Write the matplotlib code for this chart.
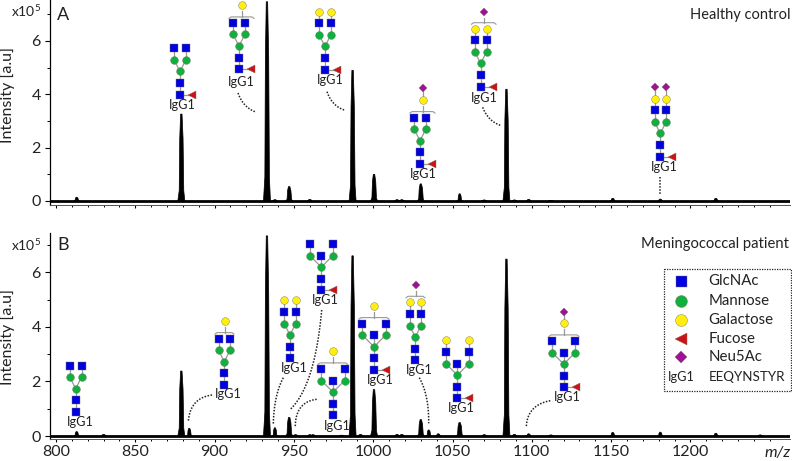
import numpy as np
import matplotlib
matplotlib.use("Agg")
import matplotlib.pyplot as plt

plt.rcParams['font.family'] = ['Lato', 'DejaVu Sans']
plt.rcParams['mathtext.default'] = 'regular'

# m/z and intensity (x10^5) of the peaks
mz_a = [813, 879, 933, 938, 947, 960, 987, 1000.5, 1015, 1018, 1030, 1054.5, 1070, 1084, 1089, 1098, 1112, 1151, 1181, 1216]
int_a = [0.14, 3.26, 7.47, 0.05, 0.54, 0.06, 4.9, 1.0, 0.05, 0.05, 0.64, 0.27, 0.04, 4.19, 0.04, 0.06, 0.02, 0.1, 0.07, 0.1]
mz_b = [813, 830, 879, 884, 933, 938, 947, 951, 960, 962, 980, 987, 992, 1000.5, 1015, 1018, 1030, 1035, 1041, 1054.5, 1070, 1084, 1089, 1098, 1112, 1151, 1181, 1216, 1244]
int_b = [0.16, 0.06, 2.38, 0.28, 7.33, 0.3, 0.68, 0.05, 0.05, 0.05, 0.03, 6.6, 0.06, 1.7, 0.06, 0.06, 0.6, 0.22, 0.08, 0.49, 0.05, 6.48, 0.06, 0.08, 0.04, 0.13, 0.14, 0.1, 0.04]

major_x = [800, 850, 900, 950, 1000, 1050, 1100, 1150, 1200]
y_ticks = [0, 2, 4, 6]

legend_names = ['GlcNAc', 'Mannose', 'Galactose', 'Fucose', 'Neu5Ac', 'EEQYNSTYR']

BLUE = '#0000e0'
GREEN = '#10b040'
YELLOW = '#ffee10'
RED = '#d01018'
PURPLE = '#a0109a'
TXT = '#222222'
W, H = 792, 461

fig = plt.figure(figsize=(W / 100, H / 100), dpi=100)


def panel(top, bottom, y0, per_unit, mz, vals):
    ax = fig.add_axes([50 / W, 1 - bottom / H, 740 / W, (bottom - top) / H])
    ax.set_xlim(796.2, 1262.8)
    ax.set_ylim(-(bottom - y0) / per_unit, (y0 - top) / per_unit)
    ax.patch.set_alpha(0)
    for m, v in zip(mz, vals):
        w = 2.2 if v > 0.4 else 1.7
        ax.fill([m - w, m - 0.6 * w, m - 0.45 * w, m - 0.2 * w, m + 0.2 * w, m + 0.5 * w, m + 0.7 * w, m + w],
                [0, 0.12 * v, 0.72 * v, v, v, 0.72 * v, 0.12 * v, 0], color='black', lw=0.5)
    ax.axhline(0, color='black', lw=2.0)
    ax.spines['top'].set_visible(False)
    ax.spines['right'].set_visible(False)
    ax.spines['left'].set_linewidth(0.9)
    ax.spines['bottom'].set_linewidth(0.7)
    ax.spines['bottom'].set_color('#555555')
    ax.set_xticks(major_x)
    ax.set_xticks(np.arange(810, 1260, 10), minor=True)
    ax.set_yticks(y_ticks)
    ax.set_yticks([1, 3, 5, 7], minor=True)
    ax.tick_params(axis='y', which='major', length=3.5, width=0.8, labelsize=11.5, pad=3, labelcolor=TXT)
    ax.tick_params(axis='y', which='minor', length=2, width=0.7)
    ax.tick_params(axis='x', which='major', length=2.5, width=0.8, labelsize=11.5, pad=1.5, labelcolor=TXT)
    ax.tick_params(axis='x', which='minor', length=1.5, width=0.7)
    return ax


ax_a = panel(0, 205, 201, 26.67, mz_a, int_a)
ax_a.set_xticklabels([])
ax_b = panel(233, 439, 436, 27.3, mz_b, int_b)

# overlay in pixel coordinates for glycan cartoons and notes
ov = fig.add_axes([0, 0, 1, 1])
ov.set_xlim(0, W)
ov.set_ylim(H, 0)
ov.axis('off')
ov.patch.set_alpha(0)


def sym(x, y, kind, size=7.2):
    st = {'n': ('s', BLUE, 1.0), 'm': ('o', GREEN, 1.08), 'g': ('o', YELLOW, 1.08),
          'f': ('<', RED, 1.05), 's': ('D', PURPLE, 0.78)}[kind]
    ov.plot(x, y, marker=st[0], ms=size * st[2] * 0.72, mfc=st[1], mec='#777755', mew=0.3, zorder=5, ls='none')


def bond(x0, y0, x1, y1):
    ov.plot([x0, x1], [y0, y1], color='#999999', lw=0.9, zorder=4)


def curl(x0, x1, by):
    ov.plot([x0, x0 + 2, x1 - 2, x1], [by + 1.5, by, by, by + 1.5], color='#999999', lw=0.8, zorder=4)


def glycan(x, y, arms=2, gal=0, neu=0, fuc=True, label=None, bracket=None):
    s = 11.6
    d = 5.8 if arms == 2 else 11.6
    if fuc:
        bond(x, y, x + 12, y)
        sym(x + 12, y, 'f')
    bond(x, y, x, y - 2 * s)
    sym(x, y, 'n')
    sym(x, y - s, 'n')
    sym(x, y - 2 * s, 'm')
    for sx in (-1, 1):
        xa = x + sx * d
        bond(x, y - 2 * s, xa, y - 3 * s)
        bond(xa, y - 3 * s, xa, y - 4 * s)
        sym(xa, y - 3 * s, 'm')
        sym(xa, y - 4 * s, 'n')
    if arms == 3:
        bond(x, y - 2 * s, x, y - 3 * s)
        sym(x, y - 3 * s, 'n')
    if gal == 2:
        for sx in (-1, 1):
            xa = x + sx * d
            bond(xa, y - 4 * s, xa, y - 5 * s)
            sym(xa, y - 5 * s, 'g')
    if bracket is None:
        if neu:
            for sx in (-1, 1):
                xa = x + sx * d
                bond(xa, y - 5 * s, xa, y - 6 * s)
                sym(xa, y - 6 * s, 's')
    else:
        # antenna position is not fixed, so it sits above a bracket
        x0, x1 = bracket
        xm = (x0 + x1) / 2
        if gal == 2:
            by = y - 5 * s - 6
            curl(x0, x1, by)
            bond(xm, by, xm, by - 5)
            sym(xm, by - 11, 's', 7.5)
        else:
            by = y - 4 * s - 6
            curl(x0, x1, by)
            bond(xm, by, xm, by - 6)
            gy = by - 11.5
            sym(xm, gy, 'g')
            if neu:
                bond(xm, gy, xm, gy - s)
                sym(xm, gy - s, 's')
    ov.text(label[0], label[1], 'IgG1', fontsize=9.2, color=TXT, ha='center', va='center', zorder=6)


# panel A cartoons
glycan(180, 94.7, label=(182.7, 104.5))
glycan(239, 69.3, label=(241.7, 81.5), gal=1, bracket=(229, 254))
glycan(325, 69.7, gal=2, label=(330, 80.5))
glycan(420, 164, gal=1, neu=1, bracket=(410, 435), label=(423.7, 173.5))
glycan(480.7, 86.7, gal=2, neu=1, bracket=(471.5, 496), label=(484, 98))
glycan(660.3, 156.7, gal=2, neu=2, label=(664, 166.7))

# panel B cartoons
glycan(75.7, 412, fuc=False, label=(80, 421.7))
glycan(224.3, 385, fuc=False, gal=1, bracket=(215, 234), label=(228.7, 394))
glycan(290, 358.3, fuc=False, gal=2, label=(294, 368))
glycan(321.3, 290.3, arms=3, label=(325.7, 300.3))
glycan(333, 415.3, arms=3, fuc=False, gal=1, bracket=(318, 347.7), label=(337.3, 425.7))
glycan(374, 370, arms=3, gal=1, bracket=(359, 389), label=(380, 380))
glycan(415.3, 360.3, fuc=False, gal=2, neu=1, bracket=(406, 425), label=(419.3, 370.3))
glycan(457.3, 398.3, arms=3, gal=2, label=(461, 408.3))
glycan(563.7, 387.3, arms=3, gal=1, neu=1, bracket=(549, 579), label=(567, 397.3))

# dotted leaders (start, control, end)
leaders = [
    ((238, 93), (243, 107), (255, 111.7)),
    ((327, 91.7), (332, 106), (344.3, 110)),
    ((482.7, 107.3), (488, 121), (500.3, 125.3)),
    ((659.7, 176.7), (659.7, 185), (659.7, 194)),
    ((212, 395), (190, 398), (188.3, 421.7)),
    ((283.3, 377.7), (274, 395), (273.3, 424.3)),
    ((321.7, 310), (315, 385), (290.7, 409)),
    ((316.7, 399.3), (295, 402), (295.3, 427.7)),
    ((419.3, 377.7), (429, 395), (428.7, 423.3)),
    ((550.3, 400.7), (527, 405), (526.3, 427.3)),
]
t = np.linspace(0, 1, 30)
for p0, p1, p2 in leaders:
    lx = (1 - t) ** 2 * p0[0] + 2 * t * (1 - t) * p1[0] + t ** 2 * p2[0]
    ly = (1 - t) ** 2 * p0[1] + 2 * t * (1 - t) * p1[1] + t ** 2 * p2[1]
    ov.plot(lx, ly, color='#222222', lw=1.1, ls=(0, (1, 1)), zorder=3)

# legend box
ov.plot([663.7, 790.5, 790.5, 663.7, 663.7], [269.3, 269.3, 390.7, 390.7, 269.3],
        color='#222222', lw=0.9, ls=(0, (1, 1)), zorder=3)
leg_y = [280.7, 300.7, 320, 339, 357.3, 377.3]
for name, ly, kind in zip(legend_names, leg_y, ['n', 'm', 'g', 'f', 's', None]):
    if kind:
        sym(680.7, ly, kind, 11)
    else:
        ov.text(681, ly, 'IgG1', fontsize=9.2, color=TXT, ha='center', va='center')
    ov.text(708.5, ly, name, fontsize=10.8 if kind else 9.6, color=TXT, ha='left', va='center')

# panel notes
ov.text(57, 15.5, 'A', fontsize=13, color=TXT, ha='left', va='center')
ov.text(57, 245, 'B', fontsize=13, color=TXT, ha='left', va='center')
ov.text(790, 15, 'Healthy control', fontsize=10.5, color=TXT, ha='right', va='center')
ov.text(789, 244, 'Meningococcal patient', fontsize=10.6, color=TXT, ha='right', va='center')
for y in (11, 245):
    ov.text(11, y, r'x10$^{5}$', fontsize=10, color=TXT, ha='left', va='center')
for y in (95, 337):
    ov.text(8, y, 'Intensity [a.u]', fontsize=11.5, color=TXT, rotation=90, ha='center', va='center')
ov.text(778, 453, 'm/z', fontsize=11.5, style='italic', color=TXT, ha='center', va='center')

fig.savefig('out.png', dpi=100)
